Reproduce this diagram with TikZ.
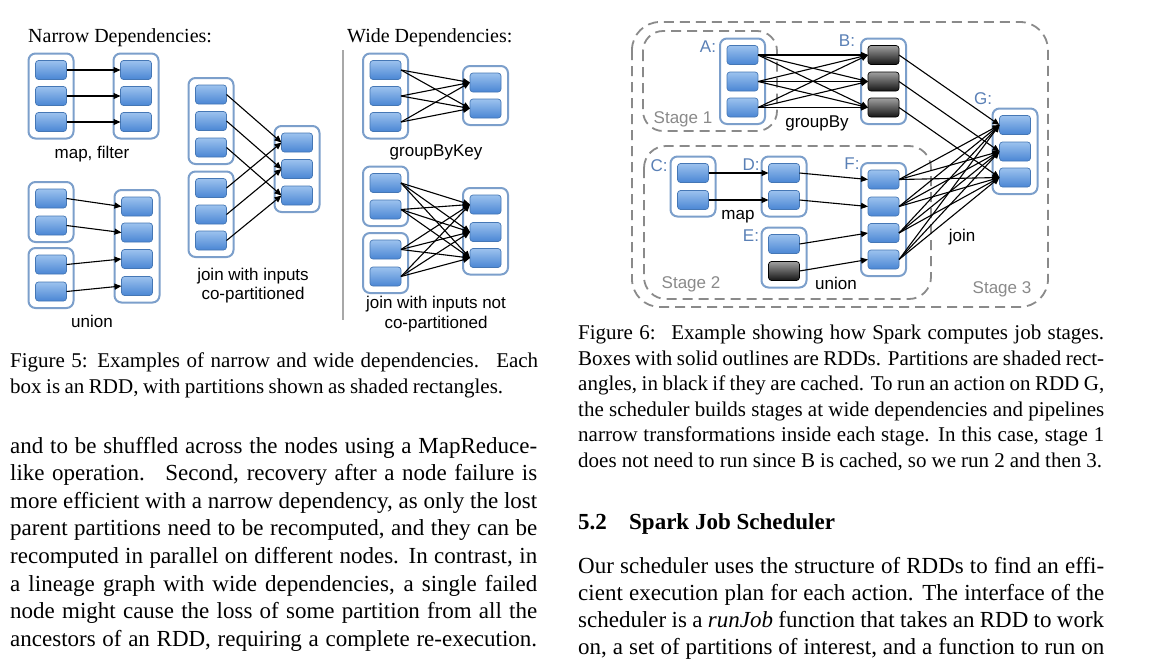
\documentclass[tikz,border=0pt]{standalone}
\usepackage{fontspec}
\setmainfont{Liberation Serif}
\setsansfont{Liberation Sans}
\usetikzlibrary{arrows.meta,fit}
\definecolor{ptop}{HTML}{9CC2EE}
\definecolor{pbot}{HTML}{4A86D4}
\definecolor{pdraw}{HTML}{4577B5}
\definecolor{rddc}{HTML}{7C9FCB}
\definecolor{lblc}{HTML}{5A80B6}
\definecolor{stagec}{HTML}{8A8A8A}
\definecolor{ctop}{HTML}{A0A0A0}
\definecolor{cbot}{HTML}{151515}
\definecolor{sepc}{HTML}{A8A8A8}
\tikzset{
 partbox/.style={draw=pdraw, line width=0.7pt, rounded corners=3pt, top color=ptop, bottom color=pbot, minimum width=31pt, minimum height=19pt, inner sep=0pt, outer sep=0pt},
 cpartbox/.style={partbox, draw=black, top color=ctop, bottom color=cbot},
 rddbox/.style={draw=rddc, line width=2pt, rounded corners=7pt, inner sep=7pt},
 arrline/.style={-{Triangle[length=7pt,width=6pt]}, line width=1.1pt, black},
 stagebox/.style={draw=stagec, line width=1.8pt, dash pattern=on 10pt off 6pt},
 lbltxt/.style={anchor=base, font=\sffamily\fontsize{17}{20}\selectfont, inner sep=0pt, text=black},
 rlbltxt/.style={anchor=base, font=\sffamily\fontsize{17}{20}\selectfont, inner sep=0pt, text=lblc},
 slbltxt/.style={anchor=base, font=\sffamily\fontsize{17}{20}\selectfont, inner sep=0pt, text=stagec},
 headtxt/.style={anchor=base west, font=\fontsize{20}{24}\selectfont, inner sep=0pt},
 captxt/.style={anchor=base west, font=\fontsize{21}{25}\selectfont, inner sep=0pt},
 bodytxt/.style={anchor=base west, font=\fontsize{23}{27}\selectfont, inner sep=0pt},
 secttxt/.style={anchor=base west, font=\bfseries\fontsize{23}{27}\selectfont, inner sep=0pt},
}
\begin{document}
\begin{tikzpicture}[x=1pt,y=-1pt]
\useasboundingbox (0,0) rectangle (1166,659);
\fill[white] (0,0) rectangle (1166,659);

% ---------- Figure 5 headings ----------
\node[headtxt] (hn) at (28,42) {Narrow Dependencies:};
\node[headtxt] (hw) at (347,42) {Wide Dependencies:};
\draw[sepc, line width=2.5pt] (343,50) -- (343,320);

% map, filter
\foreach \n/\y in {a/70,b/96,c/122}{
  \node[partbox] (m1\n) at (51,\y) {};
  \node[partbox] (m2\n) at (136,\y) {};
}
\node[rddbox, fit=(m1a)(m1c)] (mL) {};
\node[rddbox, fit=(m2a)(m2c)] (mR) {};
\foreach \n in {a,b,c} \draw[arrline] (m1\n.east) -- (m2\n.west);
\node[lbltxt] (lmap) at (92,158) {map, filter};

% union
\node[partbox] (u1a) at (51,198.5) {};
\node[partbox] (u1b) at (51,225.5) {};
\node[partbox] (u2a) at (51,264.5) {};
\node[partbox] (u2b) at (51,291.5) {};
\node[partbox] (u3a) at (137,206.5) {};
\node[partbox] (u3b) at (137,232.5) {};
\node[partbox] (u3c) at (137,259) {};
\node[partbox] (u3d) at (137,286) {};
\node[rddbox, fit=(u1a)(u1b)] (uL1) {};
\node[rddbox, fit=(u2a)(u2b)] (uL2) {};
\node[rddbox, fit=(u3a)(u3d)] (uR) {};
\draw[arrline] (u1a.east) -- (u3a.west);
\draw[arrline] (u1b.east) -- (u3b.west);
\draw[arrline] (u2a.east) -- (u3c.west);
\draw[arrline] (u2b.east) -- (u3d.west);
\node[lbltxt] (lunion) at (92,327) {union};

% join co-partitioned
\foreach \n/\y in {a/94.5,b/121,c/147.5} \node[partbox] (j1\n) at (211,\y) {};
\foreach \n/\y in {a/188,b/214.5,c/240.5} \node[partbox] (j2\n) at (211,\y) {};
\foreach \n/\y in {a/142.5,b/169,c/195.5} \node[partbox] (j3\n) at (297,\y) {};
\node[rddbox, fit=(j1a)(j1c)] (jL1) {};
\node[rddbox, fit=(j2a)(j2c)] (jL2) {};
\node[rddbox, fit=(j3a)(j3c)] (jR) {};
\foreach \n in {a,b,c}{
  \draw[arrline] (j1\n.east) -- (j3\n.west);
  \draw[arrline] (j2\n.east) -- (j3\n.west);
}
\node[lbltxt] (ljoin1) at (253,280) {join with inputs};
\node[lbltxt] (ljoin2) at (253,299) {co-partitioned};

% groupByKey
\foreach \n/\y in {a/70,b/96,c/122} \node[partbox] (g1\n) at (385.5,\y) {};
\node[partbox] (g2a) at (485.5,82.5) {};
\node[partbox] (g2b) at (485.5,108.5) {};
\node[rddbox, fit=(g1a)(g1c)] (gL) {};
\node[rddbox, fit=(g2a)(g2b)] (gR) {};
\foreach \s in {a,b,c} \foreach \t in {a,b} \draw[arrline] (g1\s.east) -- (g2\t.west);
\node[lbltxt] (lgbk) at (436,156) {groupByKey};

% join not co-partitioned
\node[partbox] (w1a) at (385.5,183) {};
\node[partbox] (w1b) at (385.5,209.5) {};
\node[partbox] (w2a) at (385.5,249.5) {};
\node[partbox] (w2b) at (385.5,276.5) {};
\foreach \n/\y in {a/204.5,b/232,c/258} \node[partbox] (w3\n) at (485.5,\y) {};
\node[rddbox, fit=(w1a)(w1b)] (wL1) {};
\node[rddbox, fit=(w2a)(w2b)] (wL2) {};
\node[rddbox, fit=(w3a)(w3c)] (wR) {};
\foreach \s in {w1a,w1b,w2a,w2b} \foreach \t in {a,b,c} \draw[arrline] (\s.east) -- (w3\t.west);
\node[lbltxt] (lwj1) at (436,308) {join with inputs not};
\node[lbltxt] (lwj2) at (436,328) {co-partitioned};

% ---------- Figure 6 ----------
\draw[stagebox, rounded corners=28pt] (632,22) rectangle (1048,307);
\draw[stagebox, rounded corners=20pt] (643,31) rectangle (777,131);
\draw[stagebox, rounded corners=22pt] (644,146) rectangle (931,299);

\foreach \n/\y in {a/55,b/81.5,c/107.5}{
  \node[partbox] (A\n) at (742.5,\y) {};
  \node[cpartbox] (B\n) at (883.5,\y) {};
}
\foreach \n/\y in {a/125,b/151.5,c/177.5} \node[partbox] (G\n) at (1015,\y) {};
\node[partbox] (Ca) at (693,173) {};
\node[partbox] (Cb) at (693,200) {};
\node[partbox] (Da) at (784,173) {};
\node[partbox] (Db) at (784,200) {};
\node[partbox] (Ea) at (784,244) {};
\node[cpartbox] (Eb) at (784,271) {};
\foreach \n/\y in {a/179.5,b/206.5,c/233,d/259.5} \node[partbox] (F\n) at (883.5,\y) {};

\node[rddbox, fit=(Aa)(Ac)] (A) {};
\node[rddbox, fit=(Ba)(Bc)] (B) {};
\node[rddbox, fit=(Ga)(Gc)] (G) {};
\node[rddbox, fit=(Ca)(Cb)] (C) {};
\node[rddbox, fit=(Da)(Db)] (D) {};
\node[rddbox, fit=(Ea)(Eb)] (E) {};
\node[rddbox, fit=(Fa)(Fd)] (F) {};

\foreach \s in {a,b,c} \foreach \t in {a,b,c} \draw[arrline] (A\s.east) -- (B\t.west);
\foreach \n in {a,b,c} \draw[arrline] (B\n.east) -- (G\n.west);
\draw[arrline] (Ca.east) -- (Da.west);
\draw[arrline] (Cb.east) -- (Db.west);
\draw[arrline] (Da.east) -- (Fa.west);
\draw[arrline] (Db.east) -- (Fb.west);
\draw[arrline] (Ea.east) -- (Fc.west);
\draw[arrline] (Eb.east) -- (Fd.west);
\foreach \s in {a,b,c,d} \foreach \t in {a,b,c} \draw[arrline] (F\s.east) -- (G\t.west);

\node[rlbltxt] (lA) at (708,52) {A:};
\node[rlbltxt] (lB) at (847,46) {B:};
\node[rlbltxt] (lG) at (983,104) {G:};
\node[rlbltxt] (lC) at (659,171) {C:};
\node[rlbltxt] (lD) at (751,170) {D:};
\node[rlbltxt] (lE) at (751,241) {E:};
\node[rlbltxt] (lF) at (852,169) {F:};
\node[lbltxt] (lgb) at (817,127) {groupBy};
\node[lbltxt] (lmp) at (738,219) {map};
\node[lbltxt] (lun) at (836,289) {union};
\node[lbltxt] (ljn) at (962,241) {join};
\node[slbltxt] (ls1) at (683,123) {Stage 1};
\node[slbltxt] (ls2) at (691,288) {Stage 2};
\node[slbltxt] (ls3) at (1002,293) {Stage 3};

% ---------- paper text, left column ----------
\node[captxt] (c5a) at (10,367.5) {\makebox[528pt][s]{Figure 5: Examples of narrow and wide dependencies. \ Each}};
\node[captxt] (c5b) at (10,393.5) {\makebox[493pt][s]{box is an RDD, with partitions shown as shaded rectangles.}};
\node[bodytxt] (b1) at (10,453) {\makebox[527pt][s]{and to be shuffled across the nodes using a MapReduce-}};
\node[bodytxt] (b2) at (10,480.6) {\makebox[527pt][s]{like operation. \ Second, recovery after a node failure is}};
\node[bodytxt] (b3) at (10,508.2) {\makebox[527pt][s]{more efficient with a narrow dependency, as only the lost}};
\node[bodytxt] (b4) at (10,535.8) {\makebox[527pt][s]{parent partitions need to be recomputed, and they can be}};
\node[bodytxt] (b5) at (10,563.4) {\makebox[527pt][s]{recomputed in parallel on different nodes. In contrast, in}};
\node[bodytxt] (b6) at (10,591) {\makebox[527pt][s]{a lineage graph with wide dependencies, a single failed}};
\node[bodytxt] (b7) at (10,618.6) {\makebox[527pt][s]{node might cause the loss of some partition from all the}};
\node[bodytxt] (b8) at (10,646.2) {\makebox[527pt][s]{ancestors of an RDD, requiring a complete re-execution.}};

% ---------- paper text, right column ----------
\node[captxt] (c6a) at (578,339.5) {\makebox[526pt][s]{Figure 6: \ Example showing how Spark computes job stages.}};
\node[captxt] (c6b) at (578,365) {\makebox[526pt][s]{Boxes with solid outlines are RDDs. Partitions are shaded rect-}};
\node[captxt] (c6c) at (578,390.5) {\makebox[526pt][s]{angles, in black if they are cached. To run an action on RDD G,}};
\node[captxt] (c6d) at (578,416) {\makebox[526pt][s]{the scheduler builds stages at wide dependencies and pipelines}};
\node[captxt] (c6e) at (578,441.5) {\makebox[526pt][s]{narrow transformations inside each stage. In this case, stage 1}};
\node[captxt] (c6f) at (578,467) {\makebox[524pt][s]{does not need to run since B is cached, so we run 2 and then 3.}};
\node[secttxt] (s52) at (578,529) {5.2};
\node[secttxt] (s52t) at (629,529) {Spark Job Scheduler};
\node[bodytxt] (r1) at (578,573.5) {\makebox[526pt][s]{Our scheduler uses the structure of RDDs to find an effi-}};
\node[bodytxt] (r2) at (578,600.5) {\makebox[526pt][s]{cient execution plan for each action. The interface of the}};
\node[bodytxt] (r3) at (578,627.5) {\makebox[526pt][s]{scheduler is a \textit{runJob} function that takes an RDD to work}};
\node[bodytxt] (r4) at (578,654.5) {\makebox[526pt][s]{on, a set of partitions of interest, and a function to run on}};
\end{tikzpicture}
\end{document}
